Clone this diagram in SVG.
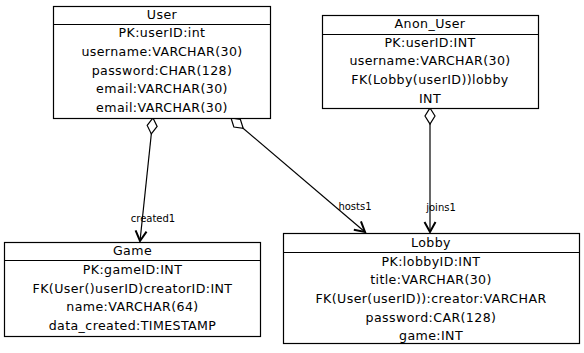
<svg xmlns="http://www.w3.org/2000/svg" width="584" height="353" viewBox="0 0 584 353">
  <style>
    .box { fill: #ffffff; stroke: #000000; stroke-width: 1.2; }
    .div { stroke: #000000; stroke-width: 1.2; }
    .t { font-family: "DejaVu Sans", sans-serif; font-size: 12.6px; letter-spacing: 0.4px; fill: #000000; text-anchor: middle; }
    .lbl { font-family: "DejaVu Sans", sans-serif; font-size: 10px; fill: #000000; text-anchor: middle; }
    .edge { fill: none; stroke: #000000; stroke-width: 1.2; marker-start: url(#diamond); marker-end: url(#arrow); }
  </style>
  <defs>
    <marker id="diamond" markerUnits="userSpaceOnUse" markerWidth="20" markerHeight="12" viewBox="-1 -6 20 12" refX="0" refY="0" orient="auto" overflow="visible">
      <path d="M0,0 L8,-5 L16,0 L8,5 Z" fill="#ffffff" stroke="#000000" stroke-width="1.2"/>
    </marker>
    <marker id="arrow" markerUnits="userSpaceOnUse" markerWidth="14" markerHeight="14" viewBox="-12 -7 14 14" refX="0" refY="0" orient="auto" overflow="visible">
      <path d="M-10,-5.5 L0,0 L-10,5.5" fill="none" stroke="#000000" stroke-width="2"/>
    </marker>
  </defs>

  <!-- relationships -->
  <g id="connectors">
    <path class="edge" d="M153,118 L140,241"/>
    <text class="lbl" x="153" y="222">created1</text>
    <path class="edge" d="M231,118 L365,232"/>
    <text class="lbl" x="355" y="210">hosts1</text>
    <path class="edge" d="M430,108 L430,232"/>
    <text class="lbl" x="441" y="211">joins1</text>
  </g>

  <g id="user">
    <rect class="box" x="53.5" y="6.5" width="217" height="112"/>
    <line class="div" x1="53.5" y1="24.5" x2="270.5" y2="24.5"/>
    <text class="t" x="162" y="19">User</text>
    <text class="t" x="162" y="37">PK:userID:int</text>
    <text class="t" x="162" y="56">username:VARCHAR(30)</text>
    <text class="t" x="162" y="75">password:CHAR(128)</text>
    <text class="t" x="162" y="93">email:VARCHAR(30)</text>
    <text class="t" x="162" y="112">email:VARCHAR(30)</text>
  </g>

  <g id="anon_user">
    <rect class="box" x="322.5" y="15.5" width="216" height="93"/>
    <line class="div" x1="322.5" y1="34.5" x2="538.5" y2="34.5"/>
    <text class="t" x="430" y="28">Anon_User</text>
    <text class="t" x="430" y="47">PK:userID:INT</text>
    <text class="t" x="430" y="65">username:VARCHAR(30)</text>
    <text class="t" x="430" y="84">FK(Lobby(userID))lobby</text>
    <text class="t" x="430" y="103">INT</text>
  </g>

  <g id="game">
    <rect class="box" x="4.5" y="242.5" width="256" height="94"/>
    <line class="div" x1="4.5" y1="260.5" x2="260.5" y2="260.5"/>
    <text class="t" x="132.5" y="255">Game</text>
    <text class="t" x="132.5" y="274">PK:gameID:INT</text>
    <text class="t" x="132.5" y="293">FK(User()userID)creatorID:INT</text>
    <text class="t" x="132.5" y="311">name:VARCHAR(64)</text>
    <text class="t" x="132.5" y="330">data_created:TIMESTAMP</text>
  </g>

  <g id="lobby">
    <rect class="box" x="283.5" y="233.5" width="296" height="110"/>
    <line class="div" x1="283.5" y1="252.5" x2="579.5" y2="252.5"/>
    <text class="t" x="431" y="247">Lobby</text>
    <text class="t" x="431" y="266">PK:lobbyID:INT</text>
    <text class="t" x="431" y="284">title:VARCHAR(30)</text>
    <text class="t" x="431" y="303">FK(User(userID)):creator:VARCHAR</text>
    <text class="t" x="431" y="322">password:CAR(128)</text>
    <text class="t" x="431" y="340">game:INT</text>
  </g>
</svg>
